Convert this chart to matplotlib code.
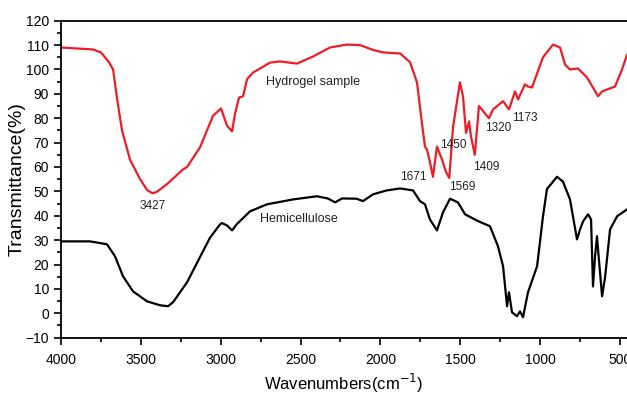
import numpy as np
import matplotlib
matplotlib.use("Agg")
import matplotlib.pyplot as plt
from matplotlib.ticker import MultipleLocator

matplotlib.rcParams['font.family'] = ['Liberation Sans', 'DejaVu Sans']

# Hydrogel sample (red)
wn_gel = [4000, 3800, 3750, 3700, 3674, 3649, 3618, 3568, 3505, 3460, 3427, 3400,
          3336, 3236, 3211, 3130, 3048, 2998, 2961, 2929, 2910, 2885, 2860, 2835,
          2798, 2691, 2629, 2522, 2422, 2316, 2209, 2128, 2046, 1984, 1896, 1877,
          1815, 1771, 1740, 1721, 1708, 1690, 1671, 1646, 1614, 1590, 1569, 1545,
          1502, 1483, 1464, 1445, 1433, 1409, 1383, 1358, 1320, 1295, 1232, 1195,
          1157, 1138, 1095, 1076, 1051, 982, 919, 875, 844, 813, 763, 706, 637,
          612, 531, 487, 456]
t_gel = [109.0, 108.2, 107.0, 103.0, 100.0, 88.0, 75.0, 63.0, 55.0, 50.5, 49.2, 49.8,
         53.0, 59.0, 60.0, 68.0, 81.0, 84.0, 77.0, 74.6, 82.0, 88.5, 89.0, 96.0,
         98.7, 102.8, 103.3, 102.4, 105.3, 109.0, 110.2, 110.0, 108.0, 107.0, 106.6, 106.6,
         103.0, 94.7, 78.0, 68.4, 67.0, 62.0, 56.0, 68.4, 63.0, 58.0, 55.5, 76.6,
         94.7, 89.0, 74.0, 78.7, 72.5, 65.0, 85.0, 83.0, 80.0, 83.6, 87.0, 83.6,
         91.0, 87.7, 93.9, 93.0, 92.6, 105.0, 110.2, 109.0, 102.0, 100.0, 100.4, 96.7, 89.0,
         91.0, 93.0, 100.0, 106.0]

# Hemicellulose (black)
wn_hemi = [4000, 3818, 3712, 3662, 3612, 3549, 3461, 3380, 3330, 3299, 3211, 3130,
           3067, 3004, 2992, 2960, 2929, 2900, 2817, 2710, 2547, 2397, 2330, 2284,
           2240, 2150, 2109, 2046, 1960, 1877, 1796, 1752, 1721, 1690, 1646, 1608,
           1564, 1515, 1470, 1395, 1314, 1264, 1232, 1207, 1195, 1176, 1145, 1126,
           1107, 1076, 1019, 982, 957, 894, 857, 813, 769, 750, 731, 700, 681, 669,
           656, 644, 637, 612, 593, 562, 518, 456]
t_hemi = [29.5, 29.5, 28.3, 23.4, 15.2, 9.0, 4.9, 3.3, 2.9, 4.5, 12.7, 23.0,
          31.0, 36.5, 37.0, 36.0, 34.0, 36.5, 41.8, 44.7, 46.7, 48.0, 47.1, 45.5,
          47.1, 47.0, 46.0, 48.8, 50.4, 51.2, 50.4, 46.0, 44.7, 38.5, 34.0, 41.4,
          47.0, 45.5, 40.6, 38.0, 35.7, 27.5, 19.3, 2.9, 8.6, 0.4, -1.2, 0.8,
          -1.6, 8.6, 19.3, 39.8, 51.0, 56.0, 54.0, 46.7, 30.3, 34.4, 37.7, 40.6, 38.5, 11.0,
          23.4, 31.6, 26.0, 7.0, 15.0, 34.4, 39.8, 42.6]

peak_labels = ["3427", "1671", "1450", "1569", "1409", "1320", "1173"]
peak_x = [3427, 1796, 1545, 1489, 1339, 1264, 1095]
peak_y = [44, 55.7, 69, 51.6, 60, 76, 80]

fig = plt.figure(figsize=(6.27, 3.97), dpi=100)
ax = fig.add_axes([0.0973, 0.1494, 0.9027, 0.7985])

ax.plot(wn_gel, t_gel, color='#ee1c25', lw=1.6)
ax.plot(wn_hemi, t_hemi, color='black', lw=1.6)

for lab, x, y in zip(peak_labels, peak_x, peak_y):
    ax.text(x, y, lab, fontsize=8.5, color='#222222', ha='center', va='center')

ax.text(2717, 95, "Hydrogel sample", fontsize=9, color='#222222', va='center')
ax.text(2754, 38.5, "Hemicellulose", fontsize=9, color='#222222', va='center')

ax.set_xlim(4000, 456)
ax.set_ylim(-10, 120)
ax.xaxis.set_major_locator(MultipleLocator(500))
ax.xaxis.set_minor_locator(MultipleLocator(250))
ax.yaxis.set_major_locator(MultipleLocator(10))
ax.yaxis.set_minor_locator(MultipleLocator(5))
ax.tick_params(which='major', direction='out', length=5, width=1.2, labelsize=10)
ax.tick_params(axis='x', which='major', pad=6)
ax.tick_params(which='minor', direction='out', length=3, width=1.2)
ax.spines['right'].set_visible(False)
for s in ['left', 'bottom', 'top']:
    ax.spines[s].set_linewidth(1.3)

ax.set_xlabel("Wavenumbers(cm$^{-1}$)", fontsize=12)
ax.set_ylabel("Transmittance(%)", fontsize=14)
ax.xaxis.set_label_coords(0.5, -0.108)
ax.yaxis.set_label_coords(-0.062, 0.5)

plt.savefig("out.png", dpi=100)
